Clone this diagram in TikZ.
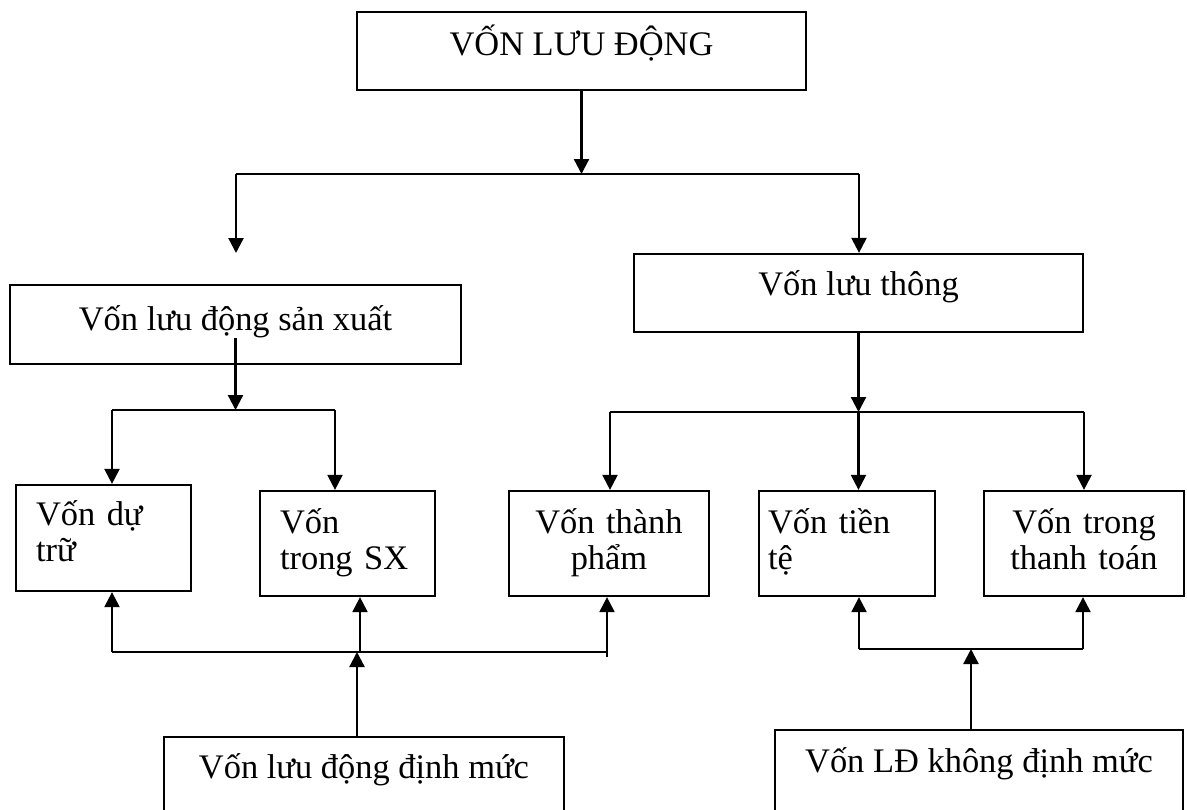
\documentclass[tikz,border=0pt]{standalone}
\usepackage{fontspec}
\setmainfont{Liberation Serif}
\usepackage{tikz}
\usetikzlibrary{arrows.meta,positioning,calc}

\begin{document}
\begin{tikzpicture}[
    x=0.02cm, y=-0.02cm,
    font=\fontsize{19.6}{21}\selectfont,
    box/.style={draw, line width=1.3pt, inner sep=0pt, align=center},
    wide/.style={box, minimum width=8.98cm, minimum height=1.56cm},
    leaf/.style={box, minimum height=2.1cm, text height=0.5cm, text depth=0.92cm},
    foot/.style={box, minimum height=2.4cm, text height=0.5cm},
    arr/.style={-{Triangle[length=3mm, width=3mm]}, line width=1.3pt},
    bar/.style={line width=1.3pt}
]
\useasboundingbox (0,0) rectangle (1187,809);
\clip (0,0) rectangle (1187,809);

\node[wide, text height=0.5cm, text depth=0.34cm] (vld) at (581.5,51) {VỐN LƯU ĐỘNG};
\node[wide, minimum width=9.02cm, minimum height=1.58cm, text height=0.6cm, text depth=0.38cm] (lsx) at (235.5,324.5) {Vốn lưu động sản xuất};
\node[wide, text height=0.5cm, text depth=0.42cm] (vlt) at (858.5,293) {Vốn lưu thông};

\node[leaf, minimum width=3.5cm, minimum height=2.12cm, text width=2.7cm, align=left, text depth=1.02cm] (dtr) at (103.5,538) {Vốn dự\\trữ};
\node[leaf, minimum width=3.5cm, text width=2.7cm, align=left] (sx) at (347.5,543.5) {Vốn\\trong SX};
\node[leaf, minimum width=4cm, text width=3.6cm] (tp) at (609,543.5) {Vốn thành\\phẩm};
\node[leaf, minimum width=3.52cm, text width=3.16cm, align=left] (tt) at (847,543.5) {Vốn tiền\\tệ};
\node[leaf, minimum width=4cm, text width=3.6cm] (ttt) at (1084,543.5) {Vốn trong\\thanh toán};

\node[foot, minimum width=8cm, text depth=1.26cm] (ldm) at (364,797) {Vốn lưu động định mức};
\node[foot, minimum width=8.16cm, text depth=1.22cm] (ldk) at (979,790) {Vốn LĐ không định mức};

\coordinate (t0) at (581.5,174);
\coordinate (tl) at (236,174);
\coordinate (tr) at (859,174);
\coordinate (tlend) at (236,253);
\draw[arr] (vld.south) -- (t0);
\draw[bar] (tl) -- (tr);
\draw[arr] (tl) -- (tlend);
\draw[arr] (tr) -- (tr |- vlt.north);

\coordinate (sl) at (112,410);
\coordinate (sr) at (335,410);
\draw[arr] ([yshift=0.54cm]lsx.south) -- (lsx.south |- sl);
\draw[bar] (sl) -- (sr);
\draw[arr] (sl) -- (sl |- dtr.north);
\draw[arr] (sr) -- (sr |- sx.north);

\coordinate (vl) at (610,412);
\coordinate (vm) at (858.5,412);
\coordinate (vr) at (1084,412);
\draw[arr] (vlt.south) -- (vm);
\draw[bar] (vl) -- (vr);
\draw[arr] (vl) -- (vl |- tp.north);
\draw[arr] (vm) -- (vm |- tt.north);
\draw[arr] (vr) -- (vr |- ttt.north);

\coordinate (dl) at (112,652);
\coordinate (dm) at (360,652);
\coordinate (dr) at (607,652);
\coordinate (dn) at (357,652);
\draw[bar] (dl) -- (dr) -- ++(0,5);
\draw[arr] (dl) -- (dl |- dtr.south);
\draw[arr] (dm) -- (dm |- sx.south);
\draw[arr] (dr) -- (dr |- tp.south);
\draw[arr] (dn |- ldm.north) -- (dn);

\coordinate (el) at (859,649);
\coordinate (er) at (1083,649);
\coordinate (en) at (971,649);
\draw[bar] (el) -- (er);
\draw[arr] (el) -- (el |- tt.south);
\draw[arr] (er) -- (er |- ttt.south);
\draw[arr] (en |- ldk.north) -- (en);
\end{tikzpicture}
\end{document}
